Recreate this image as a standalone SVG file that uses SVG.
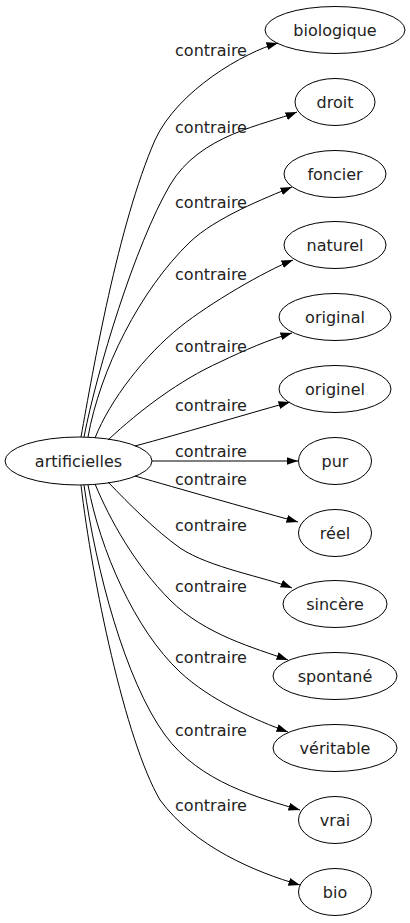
<svg xmlns="http://www.w3.org/2000/svg" width="410" height="923" viewBox="0 0 410 923">
<style>
  .n ellipse { fill: none; stroke: #000; stroke-width: 1; }
  text { font-family: "DejaVu Sans", sans-serif; font-size: 16px; fill: #222; text-anchor: middle; }
  .e path { fill: none; stroke: #000; stroke-width: 1; marker-end: url(#arr); }
</style>
<defs>
  <marker id="arr" markerUnits="userSpaceOnUse" markerWidth="13" markerHeight="10" refX="11.5" refY="4" orient="auto">
    <path d="M0,0 L11.5,4 L0,8 z" fill="#000"/>
  </marker>
</defs>
<rect width="410" height="923" fill="#fff"/>
<g id="edges" class="e">
  <path d="M81,437 C93,370 118,225 155,140 C178,90 245,52 278,43"/>
  <path d="M84,437 C97,370 135,245 170,185 C200,134 265,125 297,112"/>
  <path d="M88,437 C100,370 140,290 190,242 C215,218 265,198 292,187"/>
  <path d="M95,438 C110,400 145,355 180,327 C210,303 265,271 293,260"/>
  <path d="M108,440 C140,410 180,380 220,362 C245,350 268,340 292,333"/>
  <path d="M135,446 C180,434 240,416 290,402"/>
  <path d="M152,461 L298,461"/>
  <path d="M135,476 C180,489 240,506 298,522"/>
  <path d="M108,482 C130,505 155,530 180,548 C210,568 265,577 292,588"/>
  <path d="M95,484 C110,520 135,565 170,600 C205,635 255,648 288,660"/>
  <path d="M88,485 C100,550 135,630 180,672 C210,700 255,720 288,732"/>
  <path d="M84,485 C96,570 125,680 165,735 C200,783 260,798 300,810"/>
  <path d="M81,485 C92,580 125,740 160,800 C195,847 255,872 300,885"/>
</g>
<g id="edge-labels">
  <text x="211" y="56">contraire</text>
  <text x="211" y="133">contraire</text>
  <text x="211" y="208">contraire</text>
  <text x="211" y="280">contraire</text>
  <text x="211" y="352">contraire</text>
  <text x="211" y="411">contraire</text>
  <text x="211" y="457">contraire</text>
  <text x="211" y="485">contraire</text>
  <text x="211" y="531">contraire</text>
  <text x="211" y="592">contraire</text>
  <text x="211" y="663">contraire</text>
  <text x="211" y="736">contraire</text>
  <text x="211" y="811">contraire</text>
</g>
<g id="artificielles" class="n"><ellipse cx="78.5" cy="461" rx="73.5" ry="24"/><text x="78.5" y="467">artificielles</text></g>
<g id="biologique" class="n"><ellipse cx="335" cy="30" rx="70" ry="23.5"/><text x="335" y="36">biologique</text></g>
<g id="droit" class="n"><ellipse cx="335" cy="102" rx="40" ry="23.5"/><text x="335" y="108">droit</text></g>
<g id="foncier" class="n"><ellipse cx="335" cy="174" rx="51" ry="23.5"/><text x="335" y="180">foncier</text></g>
<g id="naturel" class="n"><ellipse cx="335" cy="245" rx="51" ry="23.5"/><text x="335" y="251">naturel</text></g>
<g id="original" class="n"><ellipse cx="335" cy="317" rx="56" ry="23.5"/><text x="335" y="323">original</text></g>
<g id="originel" class="n"><ellipse cx="335" cy="389" rx="56" ry="23.5"/><text x="335" y="395">originel</text></g>
<g id="pur" class="n"><ellipse cx="335" cy="461" rx="36.5" ry="23.5"/><text x="335" y="467">pur</text></g>
<g id="reel" class="n"><ellipse cx="335" cy="533" rx="36.5" ry="23.5"/><text x="335" y="539">réel</text></g>
<g id="sincere" class="n"><ellipse cx="335" cy="604" rx="52" ry="23.5"/><text x="335" y="610">sincère</text></g>
<g id="spontane" class="n"><ellipse cx="335" cy="676" rx="62" ry="23.5"/><text x="335" y="682">spontané</text></g>
<g id="veritable" class="n"><ellipse cx="335" cy="748" rx="62" ry="23.5"/><text x="335" y="754">véritable</text></g>
<g id="vrai" class="n"><ellipse cx="335" cy="820" rx="36.5" ry="23.5"/><text x="335" y="826">vrai</text></g>
<g id="bio" class="n"><ellipse cx="335" cy="892" rx="36.5" ry="23.5"/><text x="335" y="898">bio</text></g>
</svg>
